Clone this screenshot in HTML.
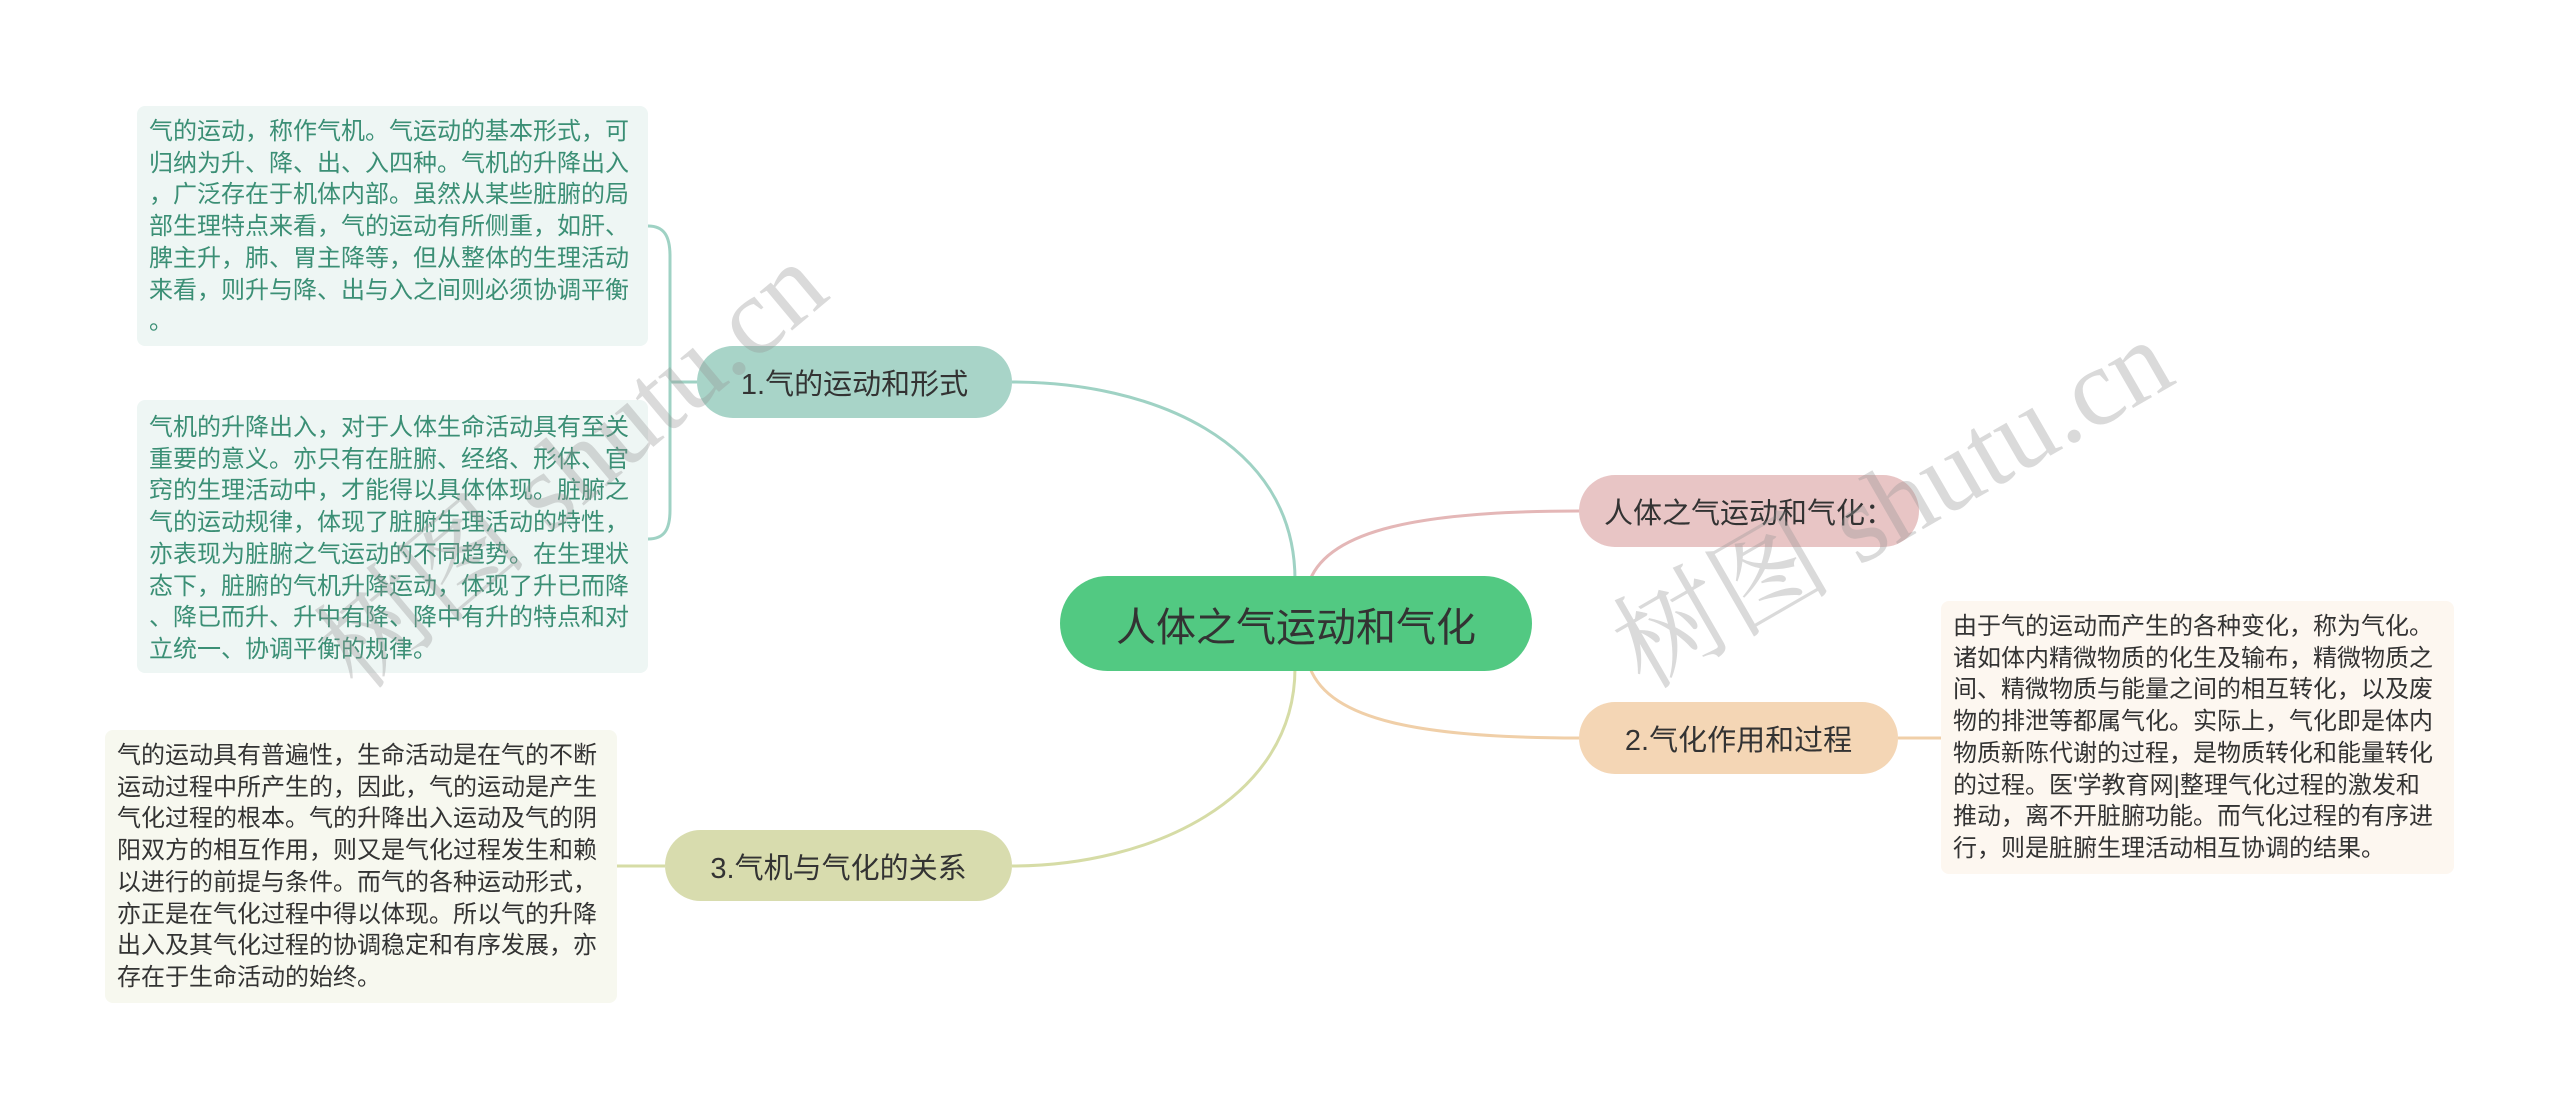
<!DOCTYPE html>
<html><head><meta charset="utf-8"><style>
body{margin:0;width:2560px;height:1109px;background:#fff;position:relative;overflow:hidden;font-family:"Liberation Sans","Noto Sans CJK SC",sans-serif;}
.n{position:absolute;display:flex;align-items:center;justify-content:center;border-radius:40px;color:#333;font-size:29px;white-space:nowrap;}
.b{position:absolute;border-radius:8px;font-size:24px;line-height:31.7px;white-space:nowrap;box-sizing:border-box;padding:0 12px;}
.wm{position:absolute;font-family:"Liberation Serif","Noto Serif CJK SC",serif;font-size:110px;color:rgba(150,150,150,0.35);white-space:nowrap;transform-origin:left bottom;}
</style></head><body>
<svg width="2560" height="1109" style="position:absolute;left:0;top:0">
<g fill="none" stroke-width="3">
<path d="M1295 580 C1295 440 1150 382 1012 382" stroke="#9fd2c4"/>
<path d="M1295 668 C1295 800 1150 866 1012 866" stroke="#d6dca6"/>
<path d="M1310 580 C1330 530 1420 511 1579 511" stroke="#e4b7b7"/>
<path d="M1310 668 C1330 720 1420 738 1579 738" stroke="#f0cfa8"/>
<path d="M1898 738 L1941 738" stroke="#f0cfa8"/>
<path d="M697 382 L670 382" stroke="#9fd2c4"/>
<path d="M648 226 C664 226 670 236 670 256 L670 510 C670 530 664 539 648 539" stroke="#9fd2c4"/>
<path d="M665 866 L617 866" stroke="#d6dca6"/>
</g></svg>
<div class="n" style="left:1060px;top:576px;width:472px;height:95px;background:#52c982;font-size:40px;border-radius:48px;">人体之气运动和气化</div>
<div class="n" style="left:697px;top:346px;width:315px;height:72px;background:#a8d4c8;">1.气的运动和形式</div>
<div class="n" style="left:665px;top:830px;width:347px;height:71px;background:#d8dcae;">3.气机与气化的关系</div>
<div class="n" style="left:1579px;top:475px;width:340px;height:72px;background:#e8c5c5;">人体之气运动和气化：</div>
<div class="n" style="left:1579px;top:702px;width:319px;height:72px;background:#f4d6b5;">2.气化作用和过程</div>
<div class="b" style="left:137px;top:106px;width:511px;height:240px;background:#eef6f4;color:#3b8f75;padding-top:10px;">气的运动，称作气机。气运动的基本形式，可<br>归纳为升、降、出、入四种。气机的升降出入<br>，广泛存在于机体内部。虽然从某些脏腑的局<br>部生理特点来看，气的运动有所侧重，如肝、<br>脾主升，肺、胃主降等，但从整体的生理活动<br>来看，则升与降、出与入之间则必须协调平衡<br>。</div>
<div class="b" style="left:137px;top:400px;width:511px;height:273px;background:#eef6f4;color:#3b8f75;padding-top:12px;">气机的升降出入，对于人体生命活动具有至关<br>重要的意义。亦只有在脏腑、经络、形体、官<br>窍的生理活动中，才能得以具体体现。脏腑之<br>气的运动规律，体现了脏腑生理活动的特性，<br>亦表现为脏腑之气运动的不同趋势。在生理状<br>态下，脏腑的气机升降运动，体现了升已而降<br>、降已而升、升中有降、降中有升的特点和对<br>立统一、协调平衡的规律。</div>
<div class="b" style="left:105px;top:730px;width:512px;height:273px;background:#f7f8ef;color:#333;padding-top:10px;">气的运动具有普遍性，生命活动是在气的不断<br>运动过程中所产生的，因此，气的运动是产生<br>气化过程的根本。气的升降出入运动及气的阴<br>阳双方的相互作用，则又是气化过程发生和赖<br>以进行的前提与条件。而气的各种运动形式，<br>亦正是在气化过程中得以体现。所以气的升降<br>出入及其气化过程的协调稳定和有序发展，亦<br>存在于生命活动的始终。</div>
<div class="b" style="left:1941px;top:601px;width:513px;height:273px;background:#fdf7f0;color:#333;padding-top:10px;">由于气的运动而产生的各种变化，称为气化。<br>诸如体内精微物质的化生及输布，精微物质之<br>间、精微物质与能量之间的相互转化，以及废<br>物的排泄等都属气化。实际上，气化即是体内<br>物质新陈代谢的过程，是物质转化和能量转化<br>的过程。医'学教育网|整理气化过程的激发和<br>推动，离不开脏腑功能。而气化过程的有序进<br>行，则是脏腑生理活动相互协调的结果。</div>
<div class="wm" style="left:380px;top:560px;transform:rotate(-40deg);">树图 shutu.cn</div>
<div class="wm" style="left:1660px;top:560px;transform:rotate(-30deg);">树图 shutu.cn</div>
</body></html>
